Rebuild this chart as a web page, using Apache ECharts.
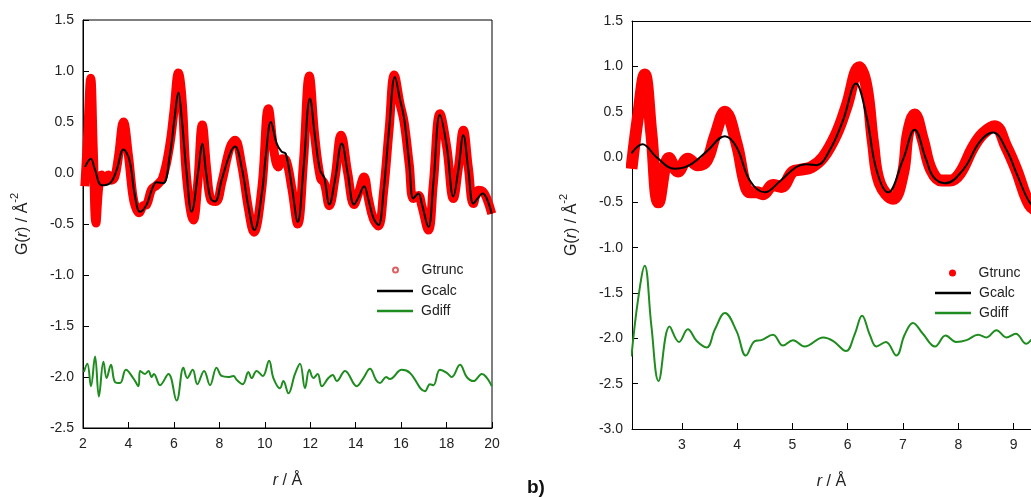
<!DOCTYPE html>
<html>
<head>
<meta charset="utf-8">
<script src="https://cdn.jsdelivr.net/npm/echarts@6/dist/echarts.min.js"></script>
<style>html,body{margin:0;padding:0;background:#fff;}#c{width:1031px;height:497px;}</style>
</head>
<body>
<div id="c"></div>
<script>
// ---------- Left panel (r = 2 .. 20 Å) ----------
const leftTruncR = [2.08,2.2,2.34,2.45,2.57,2.7,2.82,2.97,3.11,3.26,3.4,3.56,3.78,4.0,4.18,4.29,4.47,4.65,4.8,5.02,5.24,5.5,5.8,6.0,6.2,6.36,6.56,6.86,7.05,7.25,7.45,7.62,7.85,8.1,8.47,8.69,8.98,9.28,9.52,9.87,10.16,10.4,10.6,10.78,10.95,11.19,11.45,11.7,11.96,12.2,12.45,12.62,12.84,13.09,13.36,13.65,13.93,14.12,14.37,14.56,14.78,15.0,15.22,15.48,15.7,15.95,16.13,16.36,16.54,16.76,16.91,17.2,17.42,17.71,18.01,18.3,18.52,18.74,18.96,19.18,19.4,19.59,19.77,19.99];
const leftTruncG = [-0.13,0.35,0.93,0.25,-0.49,-0.12,-0.02,-0.08,-0.02,-0.07,-0.04,0.16,0.5,0.17,-0.2,-0.32,-0.39,-0.32,-0.31,-0.16,-0.12,-0.05,0.25,0.6,0.98,0.72,-0.05,-0.46,-0.1,0.47,0.02,-0.26,-0.28,-0.1,0.25,0.32,0.08,-0.35,-0.58,-0.15,0.63,0.22,0.06,0.14,0.12,-0.15,-0.5,0.1,0.95,0.36,-0.05,-0.1,-0.32,-0.05,0.37,0.0,-0.31,-0.2,-0.04,-0.25,-0.45,-0.52,-0.2,0.45,0.96,0.68,0.5,0.08,-0.25,-0.22,-0.32,-0.56,-0.1,0.58,0.25,-0.25,0.05,0.42,0.05,-0.3,-0.17,-0.18,-0.25,-0.4];

const leftCalcR = [2.09,2.34,2.53,2.82,3.19,3.48,3.78,4.04,4.29,4.51,4.8,5.02,5.24,5.53,5.83,6.02,6.2,6.34,6.56,6.78,7.08,7.25,7.42,7.62,7.81,8.1,8.47,8.69,8.98,9.28,9.54,9.87,10.05,10.27,10.52,10.74,10.92,11.19,11.45,11.7,11.99,12.21,12.43,12.62,12.84,13.09,13.39,13.65,13.93,14.12,14.37,14.56,14.78,15.0,15.22,15.48,15.73,15.95,16.13,16.36,16.54,16.76,16.91,17.2,17.42,17.71,18.01,18.3,18.52,18.74,18.96,19.18,19.4,19.59,19.77,19.99];
const leftCalcG = [0.06,0.14,0.03,-0.12,-0.1,0.03,0.23,0.13,-0.23,-0.38,-0.31,-0.17,-0.09,-0.1,0.19,0.52,0.79,0.55,0.0,-0.38,0.03,0.29,0.0,-0.25,-0.28,-0.07,0.19,0.26,0.06,-0.33,-0.56,-0.2,0.18,0.5,0.29,0.21,0.19,-0.13,-0.48,0.03,0.73,0.36,0.03,-0.05,-0.31,-0.07,0.29,0.0,-0.31,-0.24,-0.13,-0.26,-0.44,-0.51,-0.2,0.45,0.94,0.72,0.54,0.09,-0.25,-0.2,-0.3,-0.53,-0.1,0.57,0.26,-0.23,0.03,0.37,0.03,-0.3,-0.24,-0.2,-0.25,-0.4];

const leftDiffR = [2.04,2.19,2.35,2.53,2.7,2.9,3.04,3.23,3.41,3.63,3.89,4.21,4.44,4.51,4.73,4.88,5.02,5.12,5.39,5.76,6.12,6.42,6.59,6.83,7.03,7.33,7.59,7.88,8.1,8.4,8.62,8.77,9.03,9.28,9.42,9.64,9.91,10.19,10.38,10.67,10.82,11.04,11.33,11.55,11.77,11.96,12.14,12.33,12.51,12.8,12.99,13.17,13.53,14.05,14.34,14.63,14.9,15.07,15.34,15.5,16.03,16.39,17.05,17.27,17.42,17.71,18.01,18.23,18.59,18.89,19.18,19.55,19.99];
const leftDiffG = [-1.95,-1.87,-2.09,-1.8,-2.19,-1.85,-2.01,-1.88,-2.05,-2.06,-1.93,-2.01,-2.09,-1.94,-1.97,-1.94,-2.0,-1.97,-2.08,-1.97,-2.23,-1.91,-2.01,-1.93,-2.07,-1.94,-2.08,-1.91,-1.99,-2.0,-1.99,-2.03,-2.07,-1.95,-2.01,-1.94,-1.99,-1.84,-2.01,-2.11,-2.04,-2.16,-1.97,-1.87,-2.11,-1.93,-2.01,-1.97,-2.09,-2.01,-1.98,-2.04,-1.94,-2.09,-2.01,-1.92,-2.03,-2.06,-2.0,-2.02,-1.93,-1.96,-2.14,-2.07,-2.08,-1.93,-1.96,-2.0,-1.88,-2.0,-2.04,-1.97,-2.09];

// ---------- Right panel (r = 2.1 .. ~9.3 Å visible) ----------
const rightTruncR = [2.09,2.21,2.33,2.45,2.58,2.77,2.93,3.11,3.29,3.45,3.6,3.78,3.99,4.14,4.23,4.35,4.47,4.65,4.8,5.01,5.16,5.35,5.56,5.8,5.98,6.21,6.34,6.46,6.58,6.82,7.0,7.09,7.21,7.36,7.51,7.7,7.85,8.03,8.27,8.45,8.66,8.87,9.05,9.29,9.45];
const rightTruncG = [-0.13,0.45,0.91,0.26,-0.5,-0.01,-0.16,-0.02,-0.09,-0.04,0.23,0.5,0.15,-0.29,-0.39,-0.39,-0.41,-0.31,-0.33,-0.16,-0.14,-0.11,0.0,0.26,0.56,0.99,0.78,0.15,-0.29,-0.46,-0.18,0.26,0.47,0.19,-0.14,-0.26,-0.26,-0.18,0.11,0.26,0.34,0.11,-0.14,-0.53,-0.6];

const rightCalcR = [2.09,2.29,2.54,2.87,3.14,3.45,3.78,3.99,4.23,4.5,4.77,5.07,5.25,5.44,5.68,5.92,6.15,6.34,6.52,6.73,7.0,7.21,7.42,7.55,7.76,8.09,8.39,8.63,8.87,9.08,9.29,9.45];
const rightCalcG = [0.04,0.14,0.0,-0.13,-0.09,0.06,0.23,0.11,-0.26,-0.39,-0.27,-0.11,-0.08,-0.09,0.08,0.41,0.81,0.45,-0.14,-0.39,-0.03,0.3,-0.03,-0.22,-0.29,-0.14,0.17,0.27,0.08,-0.22,-0.5,-0.58];

const rightDiffR = [2.09,2.21,2.33,2.45,2.58,2.78,2.95,3.11,3.27,3.45,3.6,3.78,3.99,4.16,4.32,4.44,4.65,4.83,5.01,5.22,5.56,5.74,5.97,6.13,6.26,6.4,6.52,6.69,6.88,7.03,7.18,7.36,7.58,7.77,7.96,8.15,8.36,8.51,8.69,8.87,9.04,9.23,9.35,9.45];
const rightDiffG = [-2.2,-1.57,-1.2,-1.86,-2.47,-1.87,-2.04,-1.9,-2.03,-2.1,-1.9,-1.72,-1.92,-2.19,-2.03,-2.02,-1.96,-2.08,-2.02,-2.09,-1.99,-2.03,-2.14,-1.95,-1.75,-1.96,-2.09,-2.04,-2.19,-1.96,-1.83,-1.95,-2.09,-1.97,-2.04,-2.02,-1.96,-1.99,-1.91,-1.99,-1.95,-2.06,-2.0,-1.97];

const leftXTicks = [2,4,6,8,10,12,14,16,18,20];
const rightXTicks = [3,4,5,6,7,8,9];

function pairs(xs, ys){ return xs.map((x,i)=>[x, ys[i]]); }

const FONT = 'Arial, "Liberation Sans", sans-serif';
const txt = '#222';
const green = '#1e8c1e';

function xAxisCfg(gi, min, max, extra){
  return Object.assign({
    type:'value', gridIndex:gi, min:min, max:max,
    axisLine:{show:true, onZero:false, lineStyle:{color:'#000', width:1}},
    axisTick:{show:true, inside:true, length:6, lineStyle:{color:'#000', width:1}},
    axisLabel:{color:txt, fontSize:14, fontFamily:FONT, margin:9},
    splitLine:{show:false},
    name:'{i|r} / Å', nameLocation:'middle', nameGap:45,
    nameTextStyle:{color:txt, fontSize:16, fontFamily:FONT, rich:{i:{fontStyle:'italic', fontSize:16, fontFamily:FONT, color:txt}}}
  }, extra);
}
function yAxisCfg(gi, min, max){
  return {
    type:'value', gridIndex:gi, min:min, max:max, interval:0.5,
    axisLine:{show:true, onZero:false, lineStyle:{color:'#000', width:1}},
    axisTick:{show:true, inside:true, length:6, lineStyle:{color:'#000', width:1}},
    axisLabel:{color:txt, fontSize:14, fontFamily:FONT, margin:9, formatter:v=>v.toFixed(1)},
    splitLine:{show:false},
    name:'{n|G(}{i|r}{n|) / Å}{s|-2}', nameLocation:'middle', nameGap:52, nameRotate:90,
    nameTextStyle:{color:txt, fontFamily:FONT, fontSize:16,
      rich:{n:{fontSize:16, fontFamily:FONT, color:txt, lineHeight:22, verticalAlign:'bottom'},
            i:{fontSize:16, fontStyle:'italic', fontFamily:FONT, color:txt, lineHeight:22, verticalAlign:'bottom'},
            s:{fontSize:11, fontFamily:FONT, color:txt, lineHeight:22, verticalAlign:'top'}}}
  };
}

function legendOne(name, left, top, icon, h, color){
  return {
    left:left, top:top, orient:'vertical', itemWidth:36, itemHeight:h, padding:0,
    selectedMode:false,
    textStyle:{color:txt, fontSize:14, fontFamily:FONT, padding:[0,0,0,3]},
    data:[{name:name, icon:icon, itemStyle:{color:color, borderWidth:0}}]
  };
}

const chart = echarts.init(document.getElementById('c'), null, {renderer:'canvas'});
chart.setOption({
  backgroundColor:'#fff',
  animation:false,
  grid:[
    {left:83, top:20, width:409, height:408, show:true, borderColor:'#000', borderWidth:1, backgroundColor:'transparent'},
    {left:632, top:21, right:0, height:408, show:false}
  ],
  xAxis:[
    xAxisCfg(0, 2, 20, {interval:2}),
    xAxisCfg(1, 2.1, 9.315, {axisLabel:{color:txt, fontSize:14, fontFamily:FONT, margin:9, customValues:rightXTicks},
                           axisTick:{show:true, inside:true, length:6, lineStyle:{color:'#000', width:1}, customValues:rightXTicks}}),
    {type:'value', gridIndex:1, position:'top', min:2.1, max:9.315,
     axisLine:{show:true, onZero:false, lineStyle:{color:'#000', width:1}},
     axisTick:{show:false}, axisLabel:{show:false}, splitLine:{show:false}}
  ],
  yAxis:[ yAxisCfg(0, -2.5, 1.5), yAxisCfg(1, -3.0, 1.5) ],
  legend:[
    legendOne('Gtrunc', 392, 263, 'emptyCircle', 5, '#e06060'),
    legendOne('Gcalc', 377, 284, 'rect', 2.5, '#000'),
    legendOne('Gdiff', 377, 304, 'rect', 2.5, green),
    legendOne('Gtrunc', 949, 266, 'circle', 7, '#ff0000'),
    legendOne('Gcalc', 935, 286, 'rect', 2.5, '#000'),
    legendOne('Gdiff', 935, 306, 'rect', 2.5, green)
  ],
  series:[
    {name:'Gtrunc', type:'line', xAxisIndex:0, yAxisIndex:0, data:pairs(leftTruncR, leftTruncG), smooth:0.4, symbol:'none', color:'#ff0000', lineStyle:{color:'#ff0000', width:9}, z:2, clip:true},
    {name:'Gcalc', type:'line', xAxisIndex:0, yAxisIndex:0, data:pairs(leftCalcR, leftCalcG), smooth:0.4, symbol:'none', color:'#000', lineStyle:{color:'#000', width:2}, z:4, clip:true},
    {name:'Gdiff', type:'line', xAxisIndex:0, yAxisIndex:0, data:pairs(leftDiffR, leftDiffG), smooth:0.4, symbol:'none', color:green, lineStyle:{color:green, width:2}, z:3, clip:true},
    {name:'Gtrunc', type:'line', xAxisIndex:1, yAxisIndex:1, data:pairs(rightTruncR, rightTruncG), smooth:0.4, symbol:'none', color:'#ff0000', lineStyle:{color:'#ff0000', width:12}, z:2, clip:true},
    {name:'Gcalc', type:'line', xAxisIndex:1, yAxisIndex:1, data:pairs(rightCalcR, rightCalcG), smooth:0.4, symbol:'none', color:'#000', lineStyle:{color:'#000', width:2}, z:4, clip:true},
    {name:'Gdiff', type:'line', xAxisIndex:1, yAxisIndex:1, data:pairs(rightDiffR, rightDiffG), smooth:0.4, symbol:'none', color:green, lineStyle:{color:green, width:2}, z:3, clip:true}
  ],
  graphic:[
    {type:'text', left:527, top:478, style:{text:'b)', font:'bold 19px Arial, "Liberation Sans", sans-serif', fill:'#111'}}
  ]
});
</script>
</body>
</html>
